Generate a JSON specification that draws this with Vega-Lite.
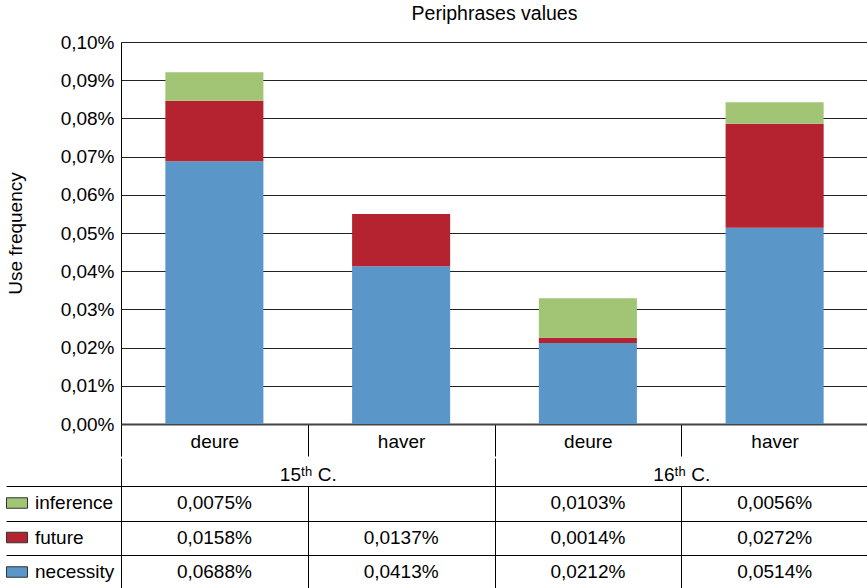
{
  "$schema": "https://vega.github.io/schema/vega-lite/v6.json",
  "padding": {"left": 5, "top": 3, "right": 0, "bottom": 0},
  "spacing": 0,
  "config": {
    "view": {"stroke": null},
    "font": "Liberation Sans",
    "axis": {"labelFont": "Liberation Sans", "titleFont": "Liberation Sans", "labelColor": "#000", "titleColor": "#000"}
  },
  "datasets": {
    "vals": [
      {"col": "15|deure", "series": "necessity", "freq": 0.000688},
      {"col": "15|deure", "series": "future", "freq": 0.000158},
      {"col": "15|deure", "series": "inference", "freq": 0.000075},
      {"col": "15|haver", "series": "necessity", "freq": 0.000413},
      {"col": "15|haver", "series": "future", "freq": 0.000137},
      {"col": "16|deure", "series": "necessity", "freq": 0.000212},
      {"col": "16|deure", "series": "future", "freq": 0.000014},
      {"col": "16|deure", "series": "inference", "freq": 0.000103},
      {"col": "16|haver", "series": "necessity", "freq": 0.000514},
      {"col": "16|haver", "series": "future", "freq": 0.000272},
      {"col": "16|haver", "series": "inference", "freq": 0.000056}
    ]
  },
  "vconcat": [
    {
      "width": 747,
      "height": 382,
      "title": {"text": "Periphrases values", "fontSize": 19.5, "fontWeight": "normal", "font": "Liberation Sans", "color": "#000", "anchor": "middle", "frame": "group", "offset": 9},
      "data": {"name": "vals"},
      "transform": [{"calculate": "indexof(['necessity','future','inference'], datum.series)", "as": "stackOrder"}],
      "mark": {"type": "bar", "width": {"band": 0.525}},
      "encoding": {
        "x": {
          "field": "col", "type": "nominal",
          "scale": {"domain": ["15|deure", "15|haver", "16|deure", "16|haver"], "paddingInner": 0, "paddingOuter": 0},
          "axis": {"title": null, "tickBand": "extent", "ticks": true, "labelAngle": 0, "labelExpr": "split(datum.value,'|')[1]", "labelFontSize": 19, "labelBaseline": "alphabetic", "labelPadding": -9, "tickSize": 32, "tickColor": "#000", "tickWidth": 1, "tickOpacity": {"condition": {"test": "datum.value == '16|haver' && !datum.extra", "value": 0}, "value": 1}, "domainColor": "#444", "domainWidth": 2, "grid": false}
        },
        "y": {
          "field": "freq", "type": "quantitative", "stack": "zero",
          "scale": {"domain": [0, 0.001], "nice": false},
          "axis": {"title": "Use frequency", "titleFontSize": 19, "titleFontWeight": "normal", "titlePadding": 35, "values": [0, 0.0001, 0.0002, 0.0003, 0.0004, 0.0005, 0.0006, 0.0007, 0.0008, 0.0009, 0.001], "labelExpr": "replace(format(datum.value,'.2%'),'.',',')", "labelFontSize": 19, "labelPadding": 7, "ticks": false, "domainColor": "#000", "grid": true, "gridColor": "#222", "gridWidth": 1}
        },
        "color": {
          "field": "series", "type": "nominal",
          "scale": {"domain": ["inference", "future", "necessity"], "range": ["#A1C475", "#B52230", "#5B96C8"]},
          "legend": {"orient": "none", "legendX": -115, "legendY": 450, "title": null, "symbolType": "M-1,-0.5H1V0.5H-1Z", "symbolSize": 441, "symbolStrokeColor": "#333", "symbolStrokeWidth": 1, "symbolOpacity": 1, "labelFontSize": 19, "labelFont": "Liberation Sans", "labelColor": "#000", "labelOffset": 7, "rowPadding": 13.5, "padding": 0}
        },
        "order": {"field": "stackOrder", "type": "quantitative"}
      }
    },
    {
      "width": 747,
      "height": 103.5,
      "data": {"name": "vals"},
      "transform": [{"calculate": "replace(format(datum.freq,'.4%'),'.',',')", "as": "lab"}],
      "mark": {"type": "text", "fontSize": 19, "font": "Liberation Sans", "color": "#000"},
      "encoding": {
        "x": {
          "field": "col", "type": "nominal",
          "scale": {"domain": ["15|deure", "15|haver", "16|deure", "16|haver"], "paddingInner": 0, "paddingOuter": 0},
          "axis": {"orient": "top", "title": null, "tickBand": "extent", "ticks": true, "labelAngle": 0, "labelOffset": -93.375, "labelExpr": "datum.value == '15|haver' ? '15ᵗʰ C.' : (datum.value == '16|haver' ? '16ᵗʰ C.' : '')", "labelFontSize": 19, "labelBaseline": "alphabetic", "labelPadding": -22, "tickSize": 28, "tickColor": "#000", "tickOpacity": {"condition": {"test": "datum.extra || datum.value == '15|haver'", "value": 1}, "value": 0}, "domainColor": "#000", "grid": true, "gridColor": "#000", "gridOpacity": {"condition": {"test": "datum.value == '16|haver' && !datum.extra", "value": 0}, "value": 1}}
        },
        "y": {
          "field": "series", "type": "nominal",
          "scale": {"domain": ["inference", "future", "necessity"], "paddingInner": 0, "paddingOuter": 0},
          "axis": {"title": null, "tickBand": "extent", "ticks": true, "labels": false, "tickSize": 115, "tickColor": "#000", "domainColor": "#000", "grid": true, "gridColor": "#000"}
        },
        "text": {"field": "lab"}
      }
    }
  ]
}
